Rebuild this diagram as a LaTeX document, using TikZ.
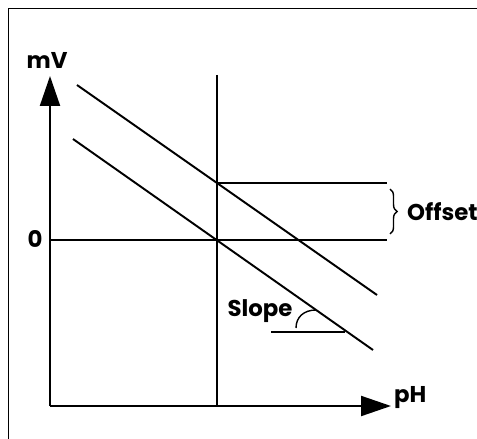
\documentclass[tikz,border=0pt]{standalone}
\usepackage{fontspec}
\setsansfont{Poppins}
\usetikzlibrary{arrows.meta, decorations.pathreplacing}

\begin{document}
\begin{tikzpicture}[
    x=0.02cm, y=-0.02cm,
    frame/.style={line width=0.5pt},
    axis/.style={line width=1.2pt, -{Triangle[length=0.6cm, width=0.4cm]}},
    trace/.style={line width=1.1pt},
    lbl/.style={font=\sffamily\bfseries\fontsize{13}{15}\selectfont, inner sep=1pt},
]
\useasboundingbox (0,0) rectangle (477,439);

% Frame (only left and top edges show)
\coordinate (fbl) at (8,439);
\coordinate (ftl) at (8,8);
\coordinate (ftr) at (477,8);
\draw[frame] (fbl) -- (ftl) -- (ftr);

% Axes
\coordinate (origin) at (50,406);
\coordinate (ytip) at (50,76);
\coordinate (xtip) at (391,406);
\draw[axis] (origin) -- (ytip);
\draw[axis] (origin) -- (xtip);
\node[lbl] (mv) at (47,60) {mV};
\node[lbl, anchor=west] (ph) at (392,398) {pH};
\node[lbl] (zero) at (35,239) {0};

% Reference lines
\coordinate (vtop) at (217,75);
\coordinate (vbot) at (217,406);
\draw[trace] (vtop) -- (vbot);
\coordinate (zleft) at (50,240);
\coordinate (zright) at (387,240);
\draw[trace] (zleft) -- (zright);
\coordinate (oleft) at (217,183);
\coordinate (oright) at (387,183);
\draw[trace] (oleft) -- (oright);

% Electrode lines
\coordinate (lowa) at (73,139);
\coordinate (lowb) at (373,350);
\draw[trace] (lowa) -- (lowb);
\coordinate (upa) at (77,85);
\coordinate (upb) at (377,295);
\draw[trace] (upa) -- (upb);

% Offset brace
\coordinate (bra) at (390,189);
\coordinate (brb) at (390,234);
\draw[line width=0.8pt, decorate, decoration={brace, amplitude=4pt}] (bra) -- (brb);
\node[lbl, anchor=west] (offset) at (405,212) {Offset};

% Slope marker
\node[lbl] (slope) at (260,311) {Slope};
\coordinate (sla) at (271,332);
\coordinate (slb) at (345,332);
\draw[trace] (sla) -- (slb);
\coordinate (arca) at (296,328);
\coordinate (arcb) at (316,310);
\draw[line width=0.8pt] (arca) .. controls (296,317) and (304,310) .. (arcb);

\end{tikzpicture}
\end{document}
